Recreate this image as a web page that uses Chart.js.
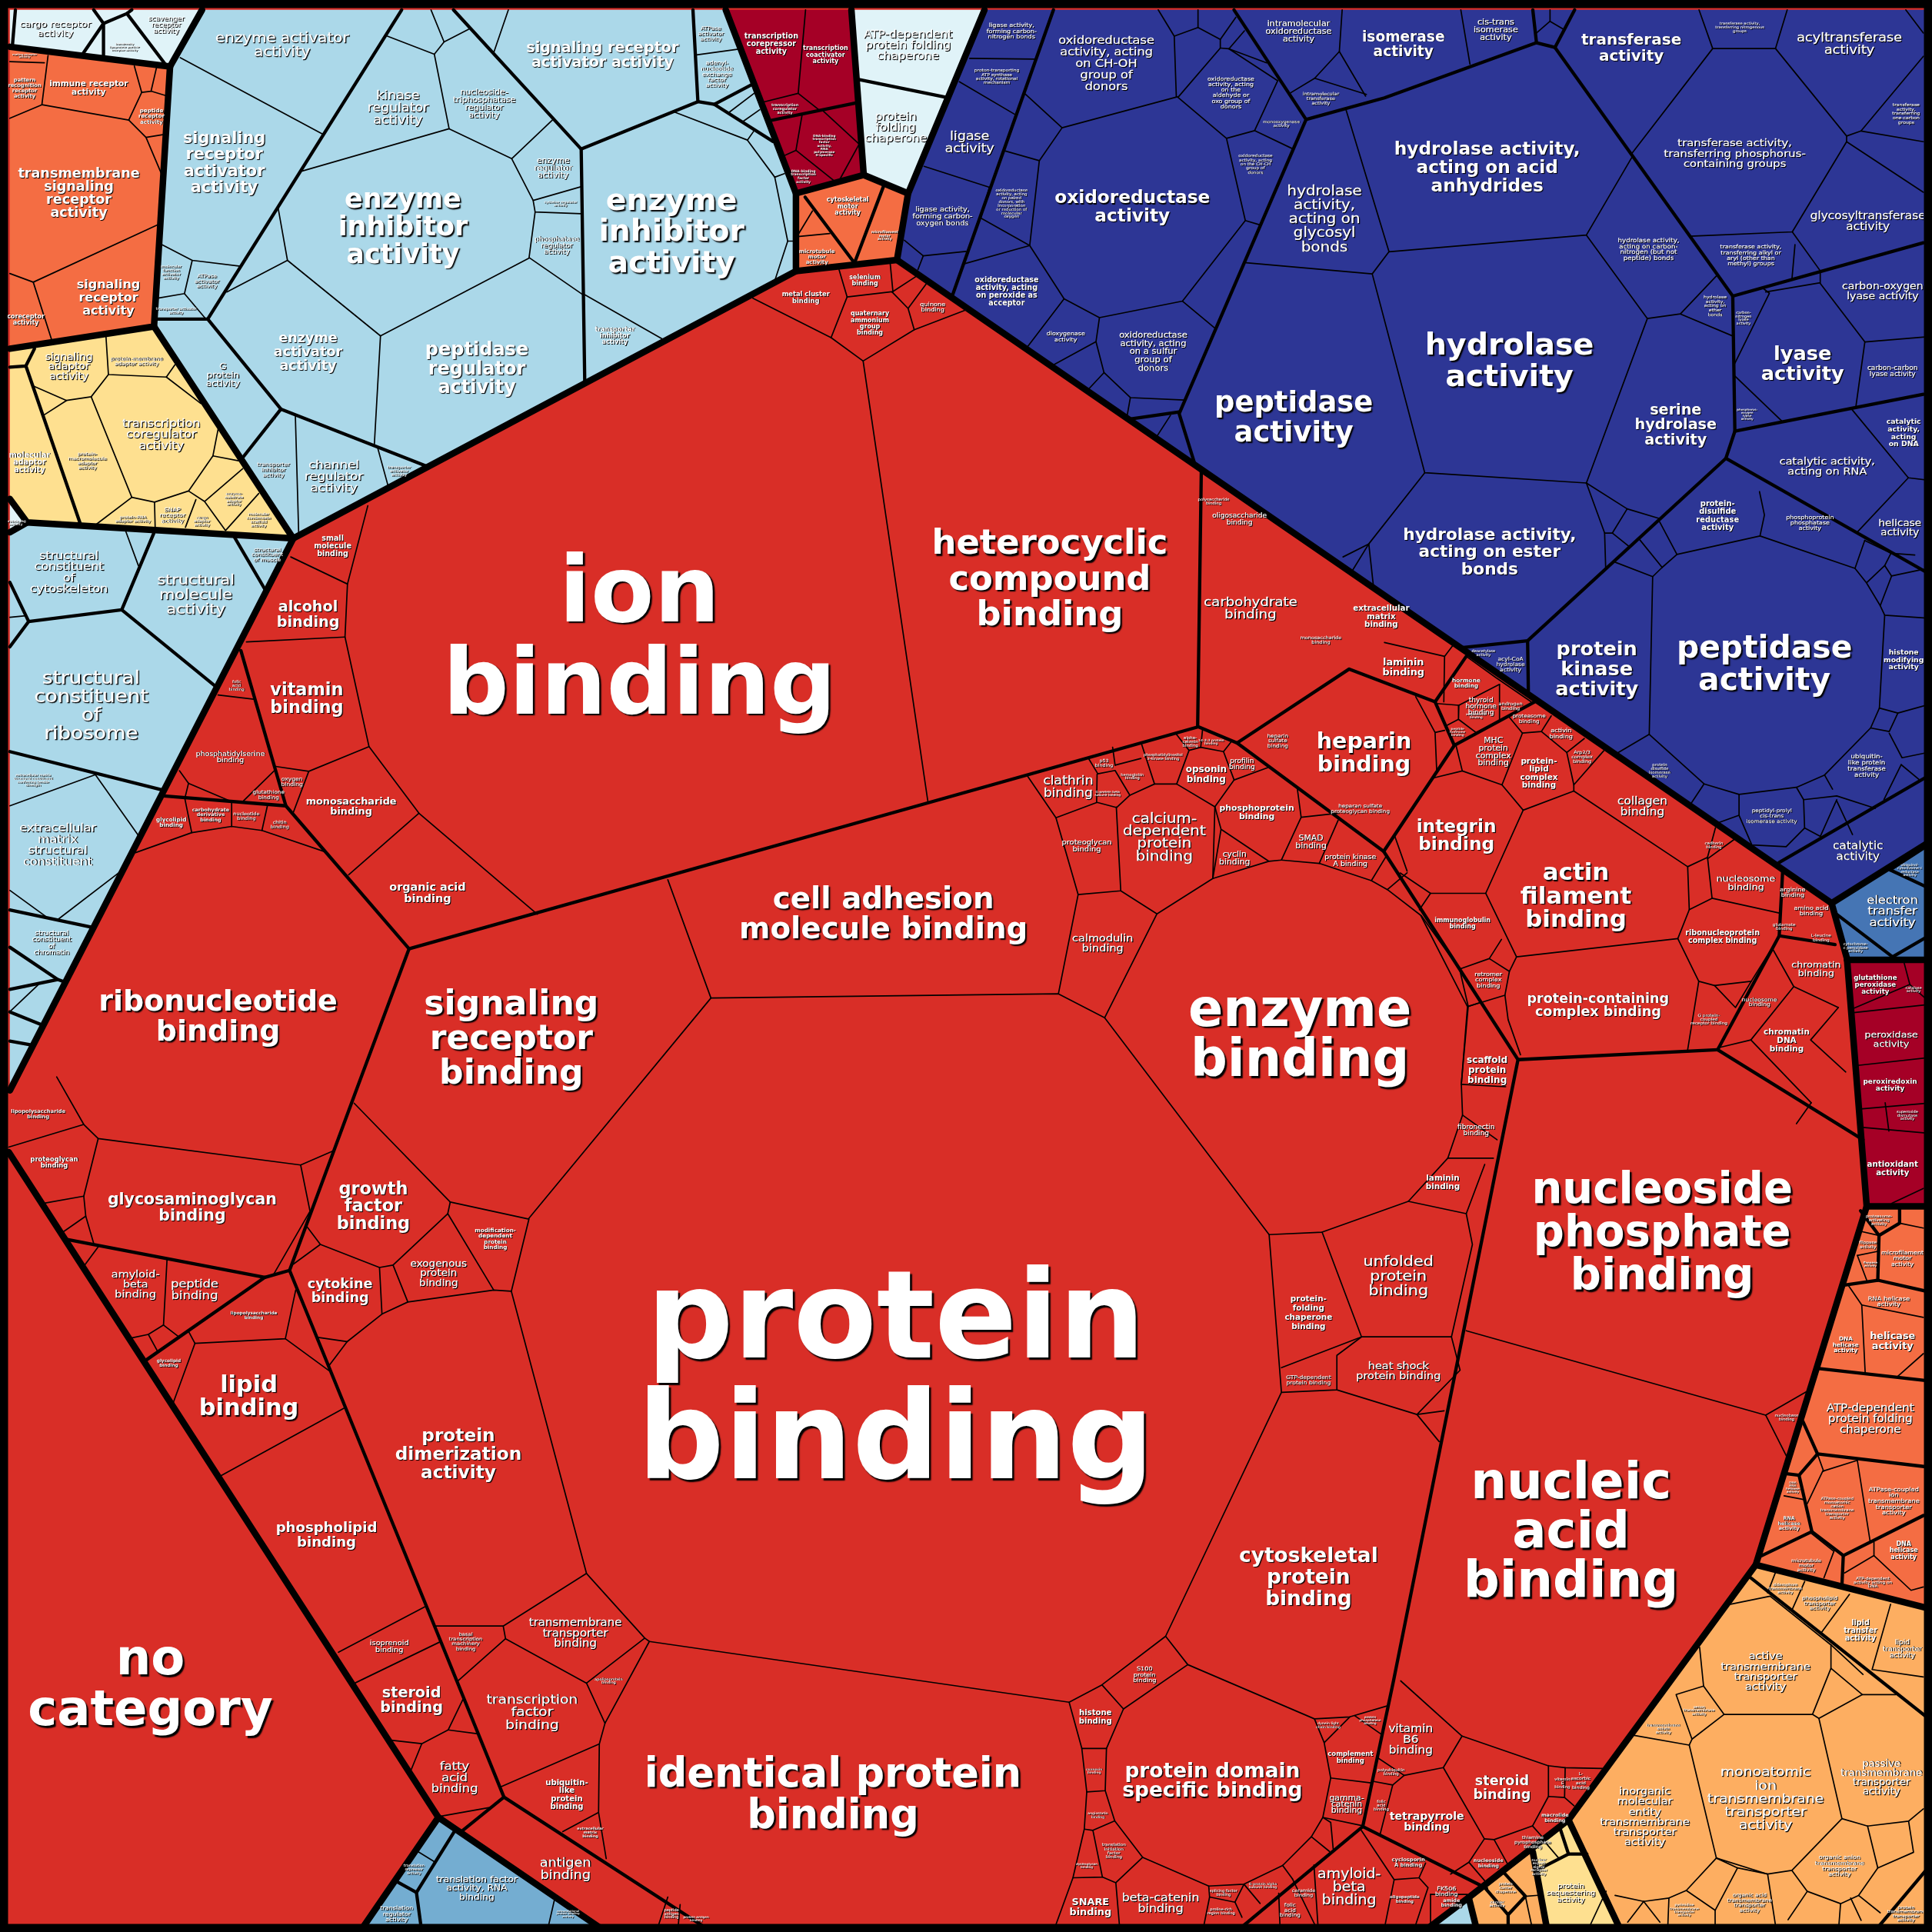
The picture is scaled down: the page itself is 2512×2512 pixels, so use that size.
<!DOCTYPE html>
<html><head><meta charset="utf-8">
<script src="https://cdn.jsdelivr.net/npm/chart.js@4"></script>
<style>html,body{margin:0;padding:0;background:#000}canvas{display:block}</style>
</head><body><canvas id="c" width="2512" height="2512"></canvas>
<script>
const RED='#d92e27',NAVY='#2d3695',SKY='#abd8e9',PALE='#e0f3f8',ORANGE='#f46d43',YELLOW='#fee090',SAND='#fdae61',CRIMSON='#a50026',MID='#74add1',STEEL='#4575b4';
const regionColors=[RED,PALE,ORANGE,YELLOW,PALE,SKY,SKY,CRIMSON,PALE,ORANGE,NAVY,STEEL,CRIMSON,ORANGE,SAND,SKY,SAND,YELLOW,MID];
const regionPoints=[
[3,3,1565,3,1565,1565,3,1565],
[8,8,164,8,138,54,8,38],
[8,38,138,54,125,265,8,283],
[8,283,125,265,238,437,22,424,8,405],
[8,405,22,424,8,432],
[8,432,22,424,238,437,8,885],
[164,8,589,8,646,157,646,220,238,437,125,265,138,54],
[589,8,691,8,701,142,646,157],
[691,8,799,8,737,157,701,142],
[646,157,701,142,737,157,728,211,646,220],
[799,8,1568,8,1568,682,1486.5,733,728,211,737,157],
[1486.5,733,1568,682,1568,778,1499,778],
[1499,779,1568,779,1568,979,1515,979],
[1515,979,1568,979,1568,1306,1425,1270],
[1425,1270,1568,1306,1568,1568,1316,1568,1273,1477],
[1155,1568,1192,1540,1199,1568],
[1192,1540,1244,1503,1256,1568,1199,1568],
[1244,1503,1273,1477,1316,1568,1256,1568],
[355.8,1475,292,1568,492,1568]];
const thickLines=[
[7,935,355.8,1475],
[138,54,125,265,8,283],[8,38,138,54],[164,8,138,54],[125,265,238,437,22,424,8,405],[22,424,8,432],[238,437,8,885],
[238,437,646,220,646,157,589,8],[646,157,701,142,691,8],[701,142,737,157,799,8],[646,220,728,211,737,157],
[728,211,1486.5,733,1568,682],[1486.5,733,1499,778,1515,979,1568,979],[1499,779,1568,779],
[1515,979,1425,1270,1273,1477,1192,1540,1155,1568],[1425,1270,1568,1306],[1273,1477,1316,1568],[1244,1503,1256,1568],[1192,1540,1199,1568],
[355.8,1475,292,1568],[355.8,1475,492,1568]];
const mediumLines=[
[12.5,8,10,38],[76,8,84,19,103,11,107,8],[84,19,67,44],[84,19,84,47],[103,11,134,52],
[8,298,21,297,28,283],[21,297,65.5,426],
[326,8,168.6,259,127,259],[168.6,259,228,332,196.5,372],[228,332,348,379],
[368,8,471.7,121,474.6,311],[471.7,121,566.4,82.5,562.4,8],[566.4,82.5,579.8,84.7,610,68.7],[579.8,84.7,627.3,114.8],
[624.4,98,694.6,83.6],[653.4,160,693.5,213.5,716.9,151.6],[697.7,64.7,769.7,79.4],
[124.8,432.8,98.8,494.9,23.3,504.4,8,472.6],[23.3,504.4,8,525],[98.8,494.9,176.8,558.6],[190.3,436,216.3,480.5],[8,610,133,641.4],[8,738.5,76,752.9],[8,768.8,46.8,794.9,52,796.8],[46.8,795,8,803],[8,821.3,34.3,831.9],[8,845,27,848.4],
[855,8,773,239.7],[1001.5,8,1060,97,957,335.8,969.5,376],[1060,97,1123.6,79.4,1247,34.7,1262,38.5,1278,8],[1244,8,1247,34.7],
[1262,38.5,1406.3,240.3,1561,197],[1406.3,240.3,1408,350,1561,320],[1408,350,1400.7,372,1568,467],[1400.7,372,1239.8,520,1186,525.7],[1239.8,520,1240.4,561],[918,340,957,334.4],[1444,700,1568,628],
[1534,706,1568,684],[1533.3,705.7,1568,722],[1489.3,741,1536,776.6,1568,758],
[332,770,972,590,975,380],[973,590,1004,603,1123,691,1232,860,1131,1364,1106,1482.4,1003,1568],[1004,603,1095,543,1164.7,569.6,1180.3,605,1245.5,569.6],[1180.3,605,1123,691],[1190,532.7,1164.7,569.6],
[1232,860,1394,852],[1394,852,1444,759.5,1446.8,707],[1444,759.5,1489.3,766.6],[1394,852,1512,925],
[195.5,528,232,654,332,770,288,888,235,1031,354,1323,409,1458.5,578,1568],[133,646,232,654],[53,1005.7,215,1036.7,235,1031],[215,1036.7,117.5,1104.6],[409,1458.5,375.6,1485.5],
[1106,1482.4,1206.5,1532.6],[320,1526,338,1536],[369.3,1485.5,338,1536,342.3,1568],
[1421,1280.6,1568,1397],[1521,1568,1568,1512],[1463.3,1153.8,1475.1,1180,1568,1191],[1476.2,1110.7,1568,1121],[1475.1,1180,1460.1,1197.3,1470.5,1243,1428.3,1263.3],[1450,1196,1460.1,1197.3],[1470.5,1243,1496,1262.5,1561,1230],[1496,1262.5,1494.9,1286.7],
[1525,1002.7,1524,1039],[1497,1043,1524,1039,1568,1049],[1510,982.6,1525,1002.7,1541.7,992.7,1541.7,981],
[1204.7,1531.5,1224,1554,1224,1568],[1221,1520.3,1238,1539,1224,1554],[1247,1518,1273,1504.7,1287.9,1504.7],[1273,1504.7,1266,1483.4]];
const thinLines=[
[8,50,36,51],[39,45,34,85,8,96],[34,85,104.5,97.5,118.5,111.5,131,141],[104.5,97.5,115,75,109,53.5],[115,75,122.6,74,127,55],[122.6,74,136,78],[118.5,111.5,134,109],[8,222,27,229,129,182],[27,229,42,276],
[86,273,88,304,135,306,142,296],[88,304,74,322,54,325,26.5,313],[54,325,35.4,337],[135,306,163,327.5],[74,322,107,403.6,77.5,426],[107,403.6,125.4,407.5,126,430.6],[125.4,407.5,153,398.5,172.8,370,177,348.4],[172.8,370,193.7,374],[153,398.5,166,407,197,380.4],[159,405.5,150.5,428],[166,407,183,430.6,210,400.5],
[146.3,46.8,262,109],[131,198.4,156,211.3,195,216],[156,211.3,149.7,238.3,128.2,242],[149.7,238.3,167.2,259],[225.7,168.6,233.3,211.3,184,237],[233.3,211.3,308.8,272.6,303.8,361],[308.8,272.6,429.2,209.6],[245.3,138.8,364.5,104.5,352.5,44,314.4,29.3],[352.5,44,360.4,34,349.8,8],[360.4,34,380.4,23.7],[364.5,104.5,415.3,128.8,448.3,97.4],[415.3,128.8,432.7,162.7,471.3,151.6],[432.7,162.7,434.3,172,471.7,173.4],[434.3,172,429.4,209,472.8,239],[239.7,337,242.5,436],[306.6,363.7,315.5,396.3],
[412.6,8,400.8,42.4],[565.3,44.6,598.3,40],[547.5,91,606.6,113.7,611.7,106.5],[606.6,113.7,628.8,143.8,636.6,140.9],[628.8,143.8,639.3,195.7,628.8,227.8],[639.3,195.7,646,195.7],[474.4,239,539.2,276],[592,91,612,75.8],[603.2,98.5,616.6,89],
[653.8,8,647.8,75.8,664.5,89],[618.8,83,647.8,75.8],[651,93,646,122,634.9,127],[646,122,678,147.6],[668.3,90.3,697.3,117,680.8,147],[659.4,171.2,647.3,191.2],[647.3,192,673.4,189.5],
[102,431,112.3,459],[8,501,20.8,499.7],[77.4,628.7,8,654],[77.4,628.7,113.4,679.6],[99.8,705.7,47.4,745.9],[8,722.6,37.4,744],[31.2,799,8,821],
[787,47.4,840,48],[778.6,66.3,824.6,93.4],[750,135,803,152],[734,195,749.3,207.6,784,204],[749.3,207.6,745,218.8],
[831.5,75.8,862,103.7,955.5,78.6],[940,8,953,29.3,954.7,78.6],[953,29.3,972.3,22.3,972.3,8],[972.3,22.3,990.4,32,1003,14],[990.4,32,990.4,39,956.4,78.6],[990.4,39,997.4,39.6,1010,25],[997.4,39.6,1028,51],[997.4,39.6,1037,65.5,1018.2,106,995.4,112.3,955.5,78.6],[1018.2,106,1049,120.7],[995.4,112.3,1010.7,179,1022.5,182.5],[1010.7,179,959.7,244.4,892.3,257.8,863.6,242.5,835.7,199.3,843.5,130.4,862,103.7],[843.5,130.4,816,122.6],[803,152,796,177,835.7,199.3,782.8,214],[863.6,242.5,833.5,282],[892.3,257.8,889.5,277.3,855.2,296],[889.5,277.3,896,302.4,883,316.3],[896,302.4,917.4,322.7,961,324.7],[917.4,322.7,914.3,340],[959.7,244.4,985.6,266],[950,337,939,354],
[1089.3,8,1087,41.8,1108.3,78],[1087,41.8,1067,63.5,1109,76.6],[1067,63.5,1047.5,75.3],[1185.6,8,1193,52],[1258,8,1258,17.3,1268.6,23.6],[1247,26.8,1258,17.3],
[1378.9,8,1390,39.4,1441,39.4,1450.5,8],[1390,39.4,1324.4,124.5],[1441,39.4,1498.7,110.4,1498.7,115,1454.6,188.2,1371.7,191.7],[1498.7,110.4,1510.4,106.3,1561,45.7],[1510.4,106.3,1561,115],[1498.7,115,1561,156],[1546.7,8,1561,26.8],[1454.6,188.2,1477.3,219.8,1477.3,229.5,1433,237],[1456.8,198.6,1454.3,227],[1430,233.3,1436,238,1408,294.8],[1408,305.2,1446.4,342],[1477.3,230,1513.5,277.5,1568,273],[1513.5,277.5,1506.3,329.5],
[1502.5,331.7,1548.8,387.8,1568,390],[1548.8,387.8,1507.2,432],
[1092,87.7,1127.3,204.3,1287.5,190.8,1324.4,127.7],[1287.5,190.8,1337,258.5,1363.8,254.8,1393.7,223.2],[1363.8,254.8,1406.3,272.7],[1337,258.5,1287.5,392],[1127.3,204.3,1113.7,222.3,1156.3,383.7,1287.5,392],[1011.3,213.2,1113.7,222.3],[1156.3,383.7,1110.9,441.4,1114.7,476],[1110.9,441.4,1090,452],[1110.9,441.4,1096.4,465],
[1287.5,392,1320.6,413,1347.4,421],[1320.6,413,1308.6,432.6,1302.3,432.6,1287.5,392],[1308.6,432.6,1322.8,444],[1302.3,432.6,1303.2,462],[1310.7,456.2,1341.3,468],[1330.6,437.8,1349,460.5],[1347,423.6,1361,450,1349,460.5,1341.3,468,1338.5,596],[1361,450,1428.4,435,1432,418,1428,399],[1428.4,435,1505.5,461.3,1513.4,438.6],[1505.5,461.3,1514.8,473,1526,491.6,1535.2,467.5,1529.6,459,1514.8,473],[1529.6,459,1534.7,449,1513.4,438.6],[1534.7,449,1554,450.5],[1535.2,467.5,1561,462],[1526,491.6,1529.6,499.3,1568,502],[1529.6,499.3,1525.3,574.7,1540.3,578.7,1568,571],[1540.3,578.7,1533.3,593.7,1518.2,590.8,1525.3,574.7],[1533.3,595.1,1543.7,615,1568,610],[1518.2,590.8,1480.8,629,1458,639,1411.4,644.7,1383,636.2,1338.5,596,1312,611.6],[1543,620.6,1529,649],[1543,620.6,1557.4,632.5],[1480.8,629,1487.3,640.5],[1458,639,1463.8,649,1490.7,646,1522,656],[1463.8,649,1464.6,672,1477.4,678.8,1490.7,649],[1383,636.2,1371.7,653.2],[1411.4,644.7,1411.4,661.7,1421.8,685.8,1449.6,687.2,1464.6,672],[1411.4,661.7,1391.5,668.8],[1490.7,650,1503.5,677.3],
[1123.6,521.4,1172.4,532.7,1179,524],[1172.4,532.7,1171.8,569.6],[1190,532.7,1213.8,549.8,1242.7,569.6],[1217,555.4,1184,572.4,1166,571],[1184,572.4,1183.7,583.8,1197.9,594.5],[1217,555.4,1217,585.2,1197.9,594.5],[1183.7,583.8,1173,589.4],[1149,565.4,1164.7,594.5,1172.4,592.8],[1164.7,594.5,1166,625],
[1245.5,569.6,1224,581,1235.6,595,1251,593.7,1259,581],[1251,593.7,1271.6,610.7,1285.8,599.4],[1271.6,610.7,1277.3,637,1301.6,609.3],[1235.6,595,1219,637,1186.8,625.7,1181.7,605],[1186.8,625.7,1163.3,631.4],[1219,637,1236.2,657.5,1277.3,642,1277.3,637],[1277.3,642,1369.7,703.4,1385.8,695.8,1392.3,671.7],[1385.8,697,1407,681.6],[1385.8,695.8,1389.5,729,1444,741],[1369.7,703.4,1371,738.3,1389.5,729],[1371,738.3,1361.7,761.8,1378.7,796.4,1391.5,799.8,1421.3,796.4,1443.4,761],[1361.7,761.8,1230.8,776.6],[1236.2,657.5,1205.8,725,1230.8,776.6],[1205.8,725,1161,725,1152,738.3],[1161,725,1136.4,708.5],[1142,707,1132,678.7,1163.3,631.4],[1218.6,762.4,1208.7,778,1184.6,786.5,1153.4,743],[1208.7,778,1225,788.4,1230.8,776.6],[1225,788.4,1221.4,807.7,1191.6,816.8,1184.6,786.5],[1191.6,816.8,1186,880],[1221.4,807.7,1224,827.6,1234,856],[1378.7,796.4,1369.7,852],[1391.5,799.8,1408.5,817.7,1421.3,796.4],[1438.3,769.5,1455.8,800.7,1492,817.7],[1455.8,800.7,1421,844,1470,895],[1492,817.7,1469.5,844,1498,870],[1470,895,1458,912],[1421,844,1396,850],
[236,452,282,474,280,517,299.5,606,340,660,436,742],[298.5,410.5,282,474],[200,521,280,517],[223.6,622,250.6,626,299.5,606],[250.6,626,238,659.5],[283,710,340,660],[700.5,293,753,650],[611,242,674.5,274,700.5,293,742,267.6,782.7,252],[674.5,274,687.5,241,681,219],[687.5,241,724.7,236.7,722.5,214],[742,267.6,737,250.3,724,237],[737,250.3,752,230],[724,237,744,224],
[177,564,206,567.5],[145.6,625.5,153,635.7,189,651],[153,635.7,150,648],[222.6,625.5,196.6,651],[110,692,155.6,675.8,188,670.7,212.6,674,264,691.4],[150,648,155.6,675.8],[188,651.6,188,670.7],[217,654,212.6,674],
[46,874,68,912.6,79.7,924,244,945.5,271.7,933.5],[7,931,68,912.6],[79.7,924,68,970.8,36,976.5],[68,970.8,69.6,987,76,1009],[69.6,987,51,1000],[244,945.5,251.6,983,222,1034.4],[80,1011.5,68,1027.8],[135.6,1021.5,132.7,1075.4,120.4,1083,106,1086],[120.4,1083,127.5,1096],[132.7,1075.4,144.7,1084.6],[153.3,1081,158.2,1090.3,140.4,1139],[158.2,1090.3,231.6,1086.5,240,1047],[231.6,1086.5,267,1112.4],[279.4,1142.7,179,1197.8],
[249.3,995.7,260,1010,238,1026],[260,1010,308,1028.7,319,1026.7,363.4,985,365.4,975.6,287.5,895.4],[308,1028.7,310,1066.5,331,1056.7,319,1026.7],[331,1056.7,400.7,1047,415,1048,429.3,989.4,365.4,975.6],[363.4,985,400.7,1047],[429,989,577,810,542,714],[310,1066.5,281.7,1088.9,258,1085.4],[281.7,1088.9,266.5,1109],
[415,1048,476,1277,408.4,1319.7,353,1319.7],[408.4,1319.7,410.3,1330,371.4,1364.5],[410.3,1330,476,1366,523.3,1329.5,476,1277],[476,1366,491,1398.6,527,1332.2,523.3,1329.5],[527,1332.2,867.7,1381.5],[491,1398.6,486.4,1415.4,406.8,1450],[486.4,1415.4,485.8,1471,456.7,1486.6],[485.8,1471,492,1508.4],
[345,1304,274.7,1341],[357,1332.6,288,1366],[375.6,1379.4,363.7,1404,387,1407],[363.7,1404,342.3,1415.2,317.3,1412.3],[342.3,1415.2,333.6,1436.6],[358,1474,397.4,1467],[542,1539.6,532.6,1568],[552,1545.8,550,1568],[338,1502,352.7,1511],[450.5,1539.6,444,1568],
[577,810,859,806.6,896.5,826,1030,1002,1040,1130,946,1328,894.3,1367.4,867.7,1381.5,878,1419,898,1419,911.8,1387,894.3,1367.4],[834,630,857,663.7,875,726,859,806.6],[857,663.7,890.4,651.2,906.3,655.4,917,645.4,937,636.3,955,636.3,986,654.8,1001.6,633,1029,623],[1001.6,633,993,610,974.5,606.5,965,609,955,636.3],[965,609,954,595],[974.5,606.5,976,592],[993,610,999,602.4],[926,602.4,937,636.3],[905,621,926,615.5],[903,606.5,905,621],[883.4,615.5,891,628,905,625.3,917,645.4],[890.4,628.4,890,651],
[875,726,909.6,723,906,655],[909.6,723,939,741.7,984.3,713,986,654.8],[896.5,826,939,741.7],[986,654.8,991,673,984.3,713,1029.7,699,991,673],[1029.7,699,1040,698,1056,663.3,1053,640.8],[1056,663.3,1086,660],[1086,665.8,1070.7,700.7],[1040,698,1070.7,700.7,1113,714.7,1125,695],[1113,714.7,1126,722,1142,708.4],[1126,722,1153,742.8,1191,817,1201.7,813.5],[1191,817,1186,880,1187,905,1175,940,1143,975,1073,1000,1030,1002],[1186,880,1222,882],[1187,905,1215,925],[1175,940,1212,940],[1143,975,1190,985,1205,945],[1190,985,1195,1010,1178,1085,1105,1085,1073,1000],[1105,1085,1040,1110],[1105,1085,1085,1100,1085,1128,1040,1130],[1085,1128,1150,1148,1172,1145],[1178,1085,1185,1112,1150,1148],[1150,1148,1168,1170],
[946,1328,964,1351,1066.8,1395,1095.5,1393.4,1125.6,1384.6],[964,1351,911.8,1387],[898,1419,897,1453.3,882,1454.3,878,1419],[882,1454.3,880,1484.5,887,1485.5,904.7,1477.8,897,1453.3],[887,1485.5,894.7,1523.4,870.8,1524,880,1484.5],[870.8,1524,854.8,1568],[894.7,1523.4,905.6,1528,909,1568],[905.6,1528,927.4,1507.4,904.7,1477.8],[927.4,1507.4,981,1530.7,1009.6,1529.2,1041,1514,1064.3,1490.7,1073.6,1475,1080,1443,1074.7,1414.4,1066.8,1395],[981,1530.7,981.7,1539.6,976,1568],[981.7,1539.6,1002.3,1543.8,1009.6,1529.2,1022.7,1544.8],[1002.3,1543.8,1008,1556],[1095.5,1393.4,1074.7,1414.4],[1099.6,1392.5,1121,1407.5],[1080,1443,1112.7,1447],[1073.6,1475,1106,1481.8],[1073.6,1475,1080,1479,1082,1500.5],[1064.3,1490.7,1079,1502.6],[1041,1514,1049,1525],
[1037.8,1536.5,1039,1568],[1049,1525,1070,1568,1066.4,1513.6],[1104.8,1485.5,1131.5,1525.5,1123,1568],[1131.5,1525.5,1151.7,1524,1157,1512],[1151.7,1524,1159,1532,1147,1568],[1161,1537.5,1161,1568],[1161,1537.5,1191,1537.5],
[1136.8,1364.2,1186.6,1409,1256.3,1433,1270.3,1434.6,1300.4,1435.3],[1186.6,1409,1171.4,1434.6,1139.6,1440.9,1118.4,1426.8],[1139.6,1440.9,1130.3,1448.7,1114.9,1445.8],[1130.3,1448.7,1120,1489],[1171.4,1434.6,1204.7,1492.4,1192.2,1511.4,1177.3,1521],[1192.2,1511.4,1205,1526.4],[1204.7,1492.4,1212.6,1493,1223.4,1512.5],[1212.6,1493,1243.8,1481.9,1251.5,1490.6],[1243.8,1481.9,1256.7,1458,1269.8,1458.8,1277.5,1465.5],[1256.7,1433,1256.7,1458],[1270.3,1434.6,1269.8,1458.8],
[1190,1080,1433,1148.5,1465.8,1129.6],[1433,1148.5,1450,1182],
[1550,799,1503,819],[1545,780,1550,799,1568,815],[1503,822,1568,815],[1505,865,1568,858],[1510,900,1568,895],[1512,915,1568,920],[1530,895,1533,918],[1535.4,976.6,1561,964.5],
[1434.6,1292.7,1440.8,1276.6],[1404.4,1302,1436.6,1295.5,1486,1335,1486,1354,1471,1391.4,1399.2,1391.4,1382.6,1368.4,1379.4,1337],[1478.2,1325,1501,1294],[1454.3,1306.8,1464.7,1283.5],[1534.4,1302,1519.4,1355,1561,1361],[1486,1335,1512,1359],
[1486,1354,1511.5,1375.3,1538.6,1375.3],[1471,1391.4,1476.2,1394.6,1511.5,1375.3],[1382.6,1368.4,1360.3,1375.3,1373.2,1411.5,1399.2,1391.4],[1373.2,1411.5,1371,1416.3,1325.4,1408.3],[1371,1416.3,1393,1508,1434.6,1521,1454.3,1518,1494.9,1476,1476.2,1394.6],[1494.9,1476,1515.7,1482,1549,1478,1561,1468],[1515.7,1482,1524,1516,1553,1503.3,1549,1478],[1524,1516,1508.4,1538.3,1493.8,1545,1466.8,1535,1454.3,1518],[1466.8,1535,1451.2,1558],[1493.8,1545,1492,1568],[1502,1540.4,1510.5,1558.5],[1508.4,1538.3,1526,1552.4],
[1393,1508,1368.6,1534.3,1392,1550.4,1392,1568],[1393,1508,1410.2,1516,1392,1550.4],[1410.2,1516,1434.6,1521,1441.8,1568],[1368.6,1534.3,1354.5,1540.4,1353.4,1568],[1354.5,1540.4,1334,1543.2,1310.8,1538.3],[1334,1543.2,1321,1560],[1334,1543.2,1347.2,1560],
[1500,1043,1511,1059.1,1561,1069.2],[1511,1059.1,1513.8,1114.7],[1539.6,1117.5,1561,1098.6],[1507.4,998.7,1525,1002.7],[1541.7,992.7,1561,996.7],[1507.4,1018.9,1524,1015.6],[1507.4,1018.9,1515,1039],
[1448,1214,1463.7,1217],[1479.3,1194,1466.8,1220.2],[1479.3,1194,1507.4,1185.2,1517.8,1251.2],[1475,1180,1480,1194],[1520.9,1251.6,1520.9,1262.5,1497,1276.6],[1520.9,1262.5,1551,1290.7,1561,1288],[1488.6,1258.5,1480.3,1280.6],[1470,1244.4,1487.6,1258.5],
[1238,1539,1248.4,1538.2],[1238,1539,1244.2,1568],[1253.6,1494.6,1265,1508],[1303.5,1534.9,1288,1568]];
// label: text, x, y, font size, bold flag, optional line pitch
const labelsRed=[
["protein\nbinding",727,1123,98.5,1,98],["ion\nbinding",519,520,75,1,75],["heterocyclic\ncompound\nbinding",852,469,28,1],["enzyme\nbinding",1055,840,41.7,1,41],["nucleoside\nphosphate\nbinding",1349,1000,35,1,35],["nucleic\nacid\nbinding",1275,1243,41,1,40],["no\ncategory",122,1367,40,1],["identical protein\nbinding",676,1456,32.8,1],["cell adhesion\nmolecule binding",717,741,24.2,1,24],["signaling\nreceptor\nbinding",415,842,27.5,1,28],["ribonucleotide\nbinding",177,824,23.7,1],["actin\nfilament\nbinding",1279,726,19.3,1,19],["integrin\nbinding",1182,677,14.5,1,14],["heparin\nbinding",1107,610,17.8,1],["calcium-\ndependent\nprotein\nbinding",945,679,11,0,10],["phosphoprotein\nbinding",1020,659,6.8,1],["clathrin\nbinding",867,638,9.5,0],["opsonin\nbinding",979,628,7.5,1],["proteoglycan\nbinding",882,686,5.5,0],["calmodulin\nbinding",895,765,8,0],["cyclin\nbinding",1002,696,6,0],["SMAD\nbinding",1064,683,6,0],["protein kinase\nA binding",1096,698,5.2,0],["profilin\nbinding",1008,620,5,0],["alpha-\ncatenin\nbinding",966,602,3,0],["p53\nbinding",896,619,3.5,0],["14-3-3 protein\nbinding",983,602,2.6,0],["phosphatidylinositol\n3-kinase binding",944,614,2.8,0],["hemoglobin\nbinding",919,630,2.8,0],["G-protein beta\nsubunit binding",899,644,2.4,0],
["carbohydrate\nbinding",1015,493,10,0],["monosaccharide\nbinding",1072,519,3.6,0],["oligosaccharide\nbinding",1006,421,5,0],["polysaccharide\nbinding",985,407,3,0],["extracellular\nmatrix\nbinding",1121,500,6.4,1],["laminin\nbinding",1139,541,8,1],["hormone\nbinding",1190,554,4.6,1],["thyroid\nhormone\nbinding",1202,573,5,0],["androgen\nbinding",1226,573,3.6,0],["proteasome\nbinding",1241,583,4,0],["activin\nbinding",1267,595,4.5,0],["Arp2/3\ncomplex\nbinding",1284,614,3.6,0],["MHC\nprotein\ncomplex\nbinding",1212,610,6,0,6],["protein-\nlipid\ncomplex\nbinding",1249,627,6.5,1,6.5],["collagen\nbinding",1333,654,8.5,0],["heparan sulfate\nproteoglycan binding",1104,656,4,0],["heparin\nsulfate\nbinding",1037,601,4,0],["adiponectin\nbinding",1198,581,2.5,0],["peptide\nhormone\nbinding",1183,594,2.5,0],["nucleosome\nbinding",1417,716,7,0],["ribonucleoprotein\ncomplex binding",1398,760,6,1],["protein-containing\ncomplex binding",1297,815,11,1,11],["immunoglobulin\nbinding",1187,749,5,1],["retromer\ncomplex\nbinding",1208,795,4.5,0],["scaffold\nprotein\nbinding",1207,868,7.5,1,8],["fibronectin\nbinding",1198,917,5,0],["laminin\nbinding",1171,959,6.5,1],["unfolded\nprotein\nbinding",1135,1035,11.5,0],["protein-\nfolding\nchaperone\nbinding",1062,1065,6.5,1,7.5],["GTP-dependent\nprotein binding",1062,1120,4.2,0],["heat shock\nprotein binding",1135,1112,8,0],["chromatin\nbinding",1474,786,7,0],["chromatin\nDNA\nbinding",1450,844,6.5,1],["nucleosome\nbinding",1428,813,4.2,0],["G protein-\ncoupled\nreceptor binding",1387,827,3.2,0],["amino acid\nbinding",1470,739,4.5,0],["arginine\nbinding",1455,724,4.5,0],["glutamate\nbinding",1448,752,3.2,0],["L-leucine\nbinding",1478,761,3.2,0],["cadherin\nbinding",1391,686,3,0],
["alcohol\nbinding",250,498,12,1],["small\nmolecule\nbinding",270,443,6,1],["vitamin\nbinding",249,566,14,1],["monosaccharide\nbinding",285,654,8,1],["organic acid\nbinding",347,724,9,1],["phosphatidylserine\nbinding",187,614,5.2,0],["oxygen\nbinding",237,634,4.2,0],["folic\nacid\nbinding",192,556,3,0],["glutathione\nbinding",218,645,4,0],["glycolipid\nbinding",139,667,4.5,1],["carbohydrate\nderivative\nbinding",171,661,4,1],["nucleotide\nbinding",200,662,3.6,0],["chitin\nbinding",227,669,3.6,0],["lipopolysaccharide\nbinding",31,904,4.2,1],["proteoglycan\nbinding",44,943,5.2,1],["glycosaminoglycan\nbinding",156,979,12.8,1],["amyloid-\nbeta\nbinding",110,1042,8,0],["peptide\nbinding",158,1046,9,0],["lipopolysaccharide\nbinding",206,1067,3.6,1],["glycolipid\nbinding",137,1106,3.6,1],["lipid\nbinding",202,1132,19,1,19],["phospholipid\nbinding",265,1245,11.3,1],["growth\nfactor\nbinding",303,978,14,1,14],["cytokine\nbinding",276,1047,11,1],["exogenous\nprotein\nbinding",356,1033,7.5,0],["modification-\ndependent\nprotein\nbinding",402,1005,4.5,1],["protein\ndimerization\nactivity",372,1179,14.5,1,15],["isoprenoid\nbinding",316,1336,5.4,0],["steroid\nbinding",334,1379,12,1],["fatty\nacid\nbinding",369,1442,9,0],["basal\ntranscription\nmachinery\nbinding",378,1332,3.8,0],["transmembrane\ntransporter\nbinding",467,1325,8.3,0],["transcription\nfactor\nbinding",432,1389,10.3,0],["ubiquitin-\nlike\nprotein\nbinding",460,1456,6.3,1],["antigen\nbinding",459,1516,9.7,0],["extracellular\nmatrix\nbinding",479,1487,3,1],["apolipoprotein\nbinding",494,1364,2.8,0],
["cytoskeletal\nprotein\nbinding",1062,1279,16.5,1,17.5],["protein domain\nspecific binding",984,1444,16.5,1,16],["S100\nprotein\nbinding",929,1359,4.5,0],["histone\nbinding",889,1393,6.3,1],["SNARE\nbinding",885,1547,8,1],["beta-catenin\nbinding",942,1544,8.8,0],["complement\nbinding",1096,1426,5.3,1],["gamma-\ncatenin\nbinding",1093,1464,6,0,5],["amyloid-\nbeta\nbinding",1095,1531,10.5,0],["vitamin\nB6\nbinding",1145,1411,8.5,0],["steroid\nbinding",1219,1450,11,1],["tetrapyrrole\nbinding",1158,1478,8.8,1],["FK506\nbinding",1174,1535,4.4,0],["cyclosporin\nA binding",1143,1511,4.2,1],["oligopeptide\nbinding",1140,1541,3.4,1],["amide\nbinding",1178,1544,4,1],["nucleoside\nbinding",1208,1512,4,1],["thiamine\npyrophosphate\nbinding",1244,1495,3.5,0],["macrolide\nbinding",1262,1475,4,1],["vitamin\nE\nbinding",1268,1447,3,0],["L-\nascorbic\nacid\nbinding",1283,1445,3.4,0,3.8],["nucleobase\nbinding",1450,1150,3,0],["folic\nacid\nbinding",1121,1465,3,0],["polyubiquitin\nbinding",1129,1438,3,0],["ceramide\nbinding",1058,1536,3.6,0],["folic\nacid\nbinding",1047,1550,4,0],["G-protein alpha\nsubunit binding",1025,1530,2.6,0],["splicing factor\nbinding",993,1536,2.8,0],["proline-rich\nregion binding",991,1551,2.8,0],["connexin\nbinding",888,1437,2.6,0],["angiostatin\nbinding",891,1473,2.6,0],["translation\ninitiation\nfactor\nbinding",904,1502,3.2,0],["dystroglycan\nbinding",882,1514,2.4,0],["dynein light\nchain binding",1078,1400,2.6,0],["protein\nphosphatase\nbinding",1112,1396,2.4,0],["peptide\nantigen\nbinding",545,1553,2.8,0],["protein antigen\nbinding",565,1557,2.4,0]];
const labelsTop=[
["cargo receptor\nactivity",45,23,7,0],["scavenger\nreceptor\nactivity",135,20,5,0],["low-density\nlipoprotein particle\nreceptor activity",101,38,2.3,0],
["immune receptor\nactivity",72,71,6.6,1],["pattern\nrecognition\nreceptor\nactivity",20,71,4.2,1],["peptide\nreceptor\nactivity",123,94,4.4,1],["transmembrane\nsignaling\nreceptor\nactivity",64,156,11,1,10.7],["signaling\nreceptor\nactivity",88,241,10,1,10.5],["coreceptor\nactivity",21,259,5,1],["mating receptor\nactivity",20,45,2.2,0],
["signaling\nadaptor\nactivity",56,297,7.6,0],["protein-membrane\nadaptor activity",111,293,4,0],["transcription\ncoregulator\nactivity",131,352,8.8,0],["molecular\nadaptor\nactivity",24,375,6,1],["protein-\nmacromolecule\nadaptor\nactivity",71,374,3.6,0],["SNAP\nreceptor\nactivity",140,418,4.4,0],["protein-RNA\nadaptor activity",108,421,3.2,0],["cargo\nadaptor\nactivity",164,423,3,0],["enzyme-\nsubstrate\nadaptor\nactivity",190,405,2.8,0],["molecular\ncondensate\nscaffold\nactivity",210,422,3,0],["protein tag\nactivity",13,424,2.6,0],
["enzyme activator\nactivity",229,36,11,0],["signaling\nreceptor\nactivator\nactivity",182,131,13,1],["kinase\nregulator\nactivity",323,87,9.6,0],["nucleoside-\ntriphosphatase\nregulator\nactivity",393,84,6,0],["enzyme\ninhibitor\nactivity",327,183,21.8,1],["enzyme\nactivator\nactivity",250,285,11,1],["peptidase\nregulator\nactivity",387,298,15,1],["G\nprotein\nactivity",181,304,6.6,0],["molecular\nfunction\nactivator\nactivity",139,221,3,0],["ATPase\nactivator\nactivity",168,228,4,0],["transporter activator\nactivity",143,252,2.8,0],["transporter\ninhibitor\nactivity",222,381,4.2,0],["channel\nregulator\nactivity",271,386,9.2,0],["transporter\nactivator\nactivity",324,382,3,0],
["signaling receptor\nactivator activity",489,44,12,1,12],["enzyme\nregulator\nactivity",449,136,6,0],["phosphatase\nregulator\nactivity",452,199,5,0],["enzyme\ninhibitor\nactivity",545,187,24.5,1],["transporter\ninhibitor\nactivity",499,272,5,1],["ATPase\nactivator\nactivity",577,27,4.2,0],["adenyl-\nnucleotide\nexchange\nfactor\nactivity",582,60,4.4,0],["cysteine regulator\nactivity",455,165,2.6,0],["transcription\ncorepressor\nactivity",626,35,6,1],["transcription\ncoactivator\nactivity",670,44,5,1],["transcription\ncoregulator\nactivity",637,88,3,1],["DNA-binding\ntranscription\nfactor\nactivity,\nRNA\npolymerase\nII-specific",669,118,2.6,1],["DNA-binding\ntranscription\nfactor\nactivity",652,143,2.8,1],
["ATP-dependent\nprotein folding\nchaperone",737,36,8.4,0],["protein\nfolding\nchaperone",727,103,8.4,0],["cytoskeletal\nmotor\nactivity",688,167,5,1],["microfilament\nmotor\nactivity",718,191,2.8,1],["microtubule\nmotor\nactivity",663,208,4.3,1],
["metal cluster\nbinding",654,241,5.2,1],["selenium\nbinding",702,227,5,1],["quaternary\nammonium\ngroup\nbinding",706,262,5,1],["quinone\nbinding",757,249,4.5,0],
["structural\nconstituent\nof\ncytoskeleton",56,464,8.8,0],["structural\nmolecule\nactivity",159,482,11.5,0],["structural\nconstituent\nof\nribosome",74,572,14.5,0],["extracellular\nmatrix\nstructural\nconstituent",47,685,8.8,0],["structural\nconstituent\nof\nchromatin",42,765,5,0],["structural\nconstituent\nof muscle",217,450,4,0],["extracellular matrix\nstructural constituent\nconferring tensile\nstrength",27,633,2.6,0],
["ligase\nactivity",787,115,9.6,0],["ligase activity,\nforming carbon-\nnitrogen bonds",821,25,4.5,0],["proton-transporting\nATP synthase\nactivity, rotational\nmechanism",809,62,3.3,0],["ligase activity,\nforming carbon-\noxygen bonds",765,175,5.4,0],["oxidoreductase\nactivity, acting\non CH-OH\ngroup of\ndonors",898,51,9,0],["oxidoreductase\nactivity",919,167,14.5,1],["oxidoreductase\nactivity, acting\non peroxide as\nacceptor",817,236,6,1],["oxidoreductase\nactivity, acting\non a sulfur\ngroup of\ndonors",936,285,6.4,0],["dioxygenase\nactivity",865,273,4.4,0],["oxidoreductase\nactivity, acting\non the\naldehyde or\noxo group of\ndonors",999,75,4.4,0],["oxidoreductase\nactivity, acting\non the CH-CH\ngroup of\ndonors",1019,133,3.2,0],["oxidoreductase\nactivity, acting\non paired\ndonors, with\nincorporation\nor reduction of\nmolecular\noxygen",821,165,3,0],["monooxygenase\nactivity",1040,100,3.2,0],
["intramolecular\noxidoreductase\nactivity",1054,25,6.2,0],["isomerase\nactivity",1139,35,11.6,1],["cis-trans\nisomerase\nactivity",1214,24,6.2,0],["intramolecular\ntransferase\nactivity",1072,80,3.6,0],["transferase\nactivity",1324,38,12.5,1],["acyltransferase\nactivity",1501,35,9.8,0],["transferase activity,\ntransferring phosphorus-\ncontaining groups",1408,124,8.2,0],["glycosyltransferase\nactivity",1516,179,8.5,0],["transferase\nactivity,\ntransferring\none-carbon\ngroups",1547,92,3.4,0],["transferase activity,\ntransferring alkyl or\naryl (other than\nmethyl) groups",1421,207,4.4,0],["transferase activity,\ntransferring nitrogenous\ngroups",1412,22,2.9,0],
["hydrolase activity,\nacting on acid\nanhydrides",1207,135,14.5,1,15],["hydrolase\nactivity,\nacting on\nglycosyl\nbonds",1075,177,11,0],["hydrolase\nactivity",1225,292,24.7,1],["peptidase\nactivity",1050,338,23,1,24],["peptidase\nactivity",1432,538,25.5,1],["serine\nhydrolase\nactivity",1360,344,12,1],["hydrolase activity,\nacting on ester\nbonds",1209,447,13.5,1],["hydrolase activity,\nacting on carbon-\nnitrogen (but not\npeptide) bonds",1338,202,4.8,0],["hydrolase\nactivity,\nacting on\nether\nbonds",1392,248,3.4,0],["protein\nkinase\nactivity",1296,542,16,1],["protein-\ndisulfide\nreductase\nactivity",1394,418,6.2,1],["phosphoprotein\nphosphatase\nactivity",1469,424,4.4,0],["catalytic activity,\nacting on RNA",1483,378,8,0],["helicase\nactivity",1542,428,7.5,0],["catalytic\nactivity,\nacting\non DNA",1545,351,5.8,1],["lyase\nactivity",1463,294,16,1],["carbon-oxygen\nlyase activity",1528,236,7.8,0],["carbon-carbon\nlyase activity",1536,301,5,0],["carbon-\nnitrogen\nlyase\nactivity",1415,258,2.8,0],["phosphorus-\noxygen\nlyase\nactivity",1418,336,2.4,0],["catalytic\nactivity",1508,690,8.5,0],["histone\nmodifying\nactivity",1545,535,5.8,1],["ubiquitin-\nlike protein\ntransferase\nactivity",1515,621,4.8,0],["peptidyl-prolyl\ncis-trans\nisomerase activity",1438,662,4,0],["acyl-CoA\nhydrolase\nactivity",1226,539,4.2,0],["deacetylase\nactivity",1204,530,2.8,0],["protein\ndisulfide\nisomerase\nactivity",1347,625,3,0],["electron\ntransfer\nactivity",1536,739,9,0],["cytochrome-\nc peroxidase\nactivity",1506,769,2.8,0],["ubiquinol-\ncytochrome-c\nreductase\nactivity",1550,706,2.6,0],
["glutathione\nperoxidase\nactivity",1522,799,5.4,1],["peroxidase\nactivity",1535,843,7,0],["peroxiredoxin\nactivity",1534,880,5.6,1],["antioxidant\nactivity",1536,948,6.4,1],["catalase\nactivity",1553,803,2.8,0],["superoxide\ndismutase\nactivity",1548,905,2.8,0],
["helicase\nactivity",1536,1088,8,1],["DNA\nhelicase\nactivity",1498,1091,4.6,1],["RNA helicase\nactivity",1533,1056,4.6,0],["microfilament\nmotor\nactivity",1544,1021,4.4,0],["proteasome-\nactivating\nactivity",1525,990,3,0],["flippase\nactivity",1516,1010,3.2,0],["floppase\nactivity",1518,1026,2.4,0],["ATP-dependent\nprotein folding\nchaperone",1518,1151,8.3,0],["ATPase-coupled\nion\ntransmembrane\ntransporter\nactivity",1537,1218,4.6,0],["ATPase-coupled\nmonoatomic\ncation\ntransmembrane\ntransporter\nactivity",1491,1224,3,0],["DNA\nhelicase\nactivity",1545,1258,5,1],["RNA\nhelicase\nactivity",1452,1236,4,1],["microtubule\nmotor\nactivity",1466,1270,3.6,0],["ATP-dependent\nactivity acting on\nDNA",1520,1284,3.2,0],["DNA\nRNA\nhelicase\nactivity",1455,1207,2.4,0],
["active\ntransmembrane\ntransporter\nactivity",1433,1356,8,0],["monoatomic\nion\ntransmembrane\ntransporter\nactivity",1433,1459,10.4,0],["passive\ntransmembrane\ntransporter\nactivity",1527,1442,7.3,0],["inorganic\nmolecular\nentity\ntransmembrane\ntransporter\nactivity",1335,1474,8,0],["organic anion\ntransmembrane\ntransporter\nactivity",1493,1514,4.4,0],["organic acid\ntransmembrane\ntransporter\nactivity",1420,1544,4,0],["lipid\ntransfer\nactivity",1510,1323,6,1],["lipid\ntransporter\nactivity",1544,1338,5,0],["phospholipid\ntransporter\nactivity",1477,1301,4,0],["siderophore\ntransmembrane\nactivity",1449,1289,3,0],["transmembrane\nsolute\nactivity",1350,1403,3,0],["xenon\ntransmembrane\nactivity",1379,1388,2.8,0],["protein\ntransmembrane\ntransporter\nactivity",1547,1553,3.4,0],["pyrimidine\ntransmembrane\ntransporter\nactivity",1367,1550,2.6,0],["protein\nsequestering\nactivity",1275,1536,5.4,0],["carrier\nactivity",1215,1545,3,1],["protein\ncarrier\nchaperone",1222,1532,2.8,0],["nuclear\nexport\nsignal\nreceptor\nactivity",1249,1515,2.8,0],
["translation factor\nactivity, RNA\nbinding",387,1532,6.8,0],["translation\nregulator\nactivity",322,1553,4.4,0],["translation\nrepressor\nactivity",336,1517,2.8,0],["cotranslational\nprotein binding\nactivity",461,1553,2.2,0]];
const ds=[];
const pts=a=>{const o=[];for(let i=0;i<a.length;i+=2)o.push({x:a[i],y:a[i+1]});return o};
regionPoints.forEach((r,i)=>{const d=pts(r);d.push(d[0]);ds.push({data:d,showLine:true,pointRadius:0,borderWidth:0,borderColor:'transparent',backgroundColor:regionColors[i],fill:'shape',order:10+regionPoints.length-i})});
const addLines=(ls,w,ord)=>ls.forEach(l=>ds.push({data:pts(l),showLine:true,pointRadius:0,borderWidth:w,borderColor:'#000',fill:false,order:ord,borderJoinStyle:'round',borderCapStyle:'round'}));
addLines(thinLines,1.7,3);addLines(mediumLines,4.3,2);addLines(thickLines,8.5,1);
ds.push({data:pts([0,0,1568,0,1568,1568,0,1568,0,0]),showLine:true,pointRadius:0,borderWidth:21,borderColor:'#000',fill:false,order:0});
const textPlugin={id:'cellText',afterDatasetsDraw(ch){const c=ch.ctx,X=ch.scales.x,Y=ch.scales.y,k=X.getPixelForValue(1)-X.getPixelForValue(0);
c.save();c.beginPath();c.rect(10,9,2491,2493);c.clip();c.textAlign='center';c.textBaseline='middle';c.lineJoin='round';
labelsRed.concat(labelsTop).forEach(([t,x,y,s,b,p])=>{const lines=t.split('\n'),pitch=p||s*1.03,fs=s*k,shift=Math.min(2.2,s*.12);
c.font=(b?'bold ':'')+fs.toFixed(2)+'px "DejaVu Sans"';
c.shadowColor='#000';c.shadowBlur=Math.min(1.5,fs*.04);c.shadowOffsetX=c.shadowOffsetY=Math.max(.9,Math.min(2.6,fs*.05));c.fillStyle=c.strokeStyle=fs<7?'#f0f0f0':'#fff';c.lineWidth=fs*.025;
lines.forEach((l,i)=>{const px=X.getPixelForValue(x),py=Y.getPixelForValue(y+shift+(i-(lines.length-1)/2)*pitch);
c.save();c.translate(px,py);if(!b){c.scale(1.13,1);c.strokeText(l,0,0);}c.fillText(l,0,0);c.restore();});});
c.restore();}};
new Chart(document.getElementById('c'),{type:'scatter',data:{datasets:ds},plugins:[textPlugin],options:{responsive:false,animation:false,devicePixelRatio:1,layout:{padding:0},plugins:{legend:{display:false},tooltip:{enabled:false},title:{display:false}},scales:{x:{type:'linear',display:false,min:0,max:1568},y:{type:'linear',display:false,min:0,max:1568,reverse:true}},elements:{line:{tension:0}}}});
</script></body></html>
